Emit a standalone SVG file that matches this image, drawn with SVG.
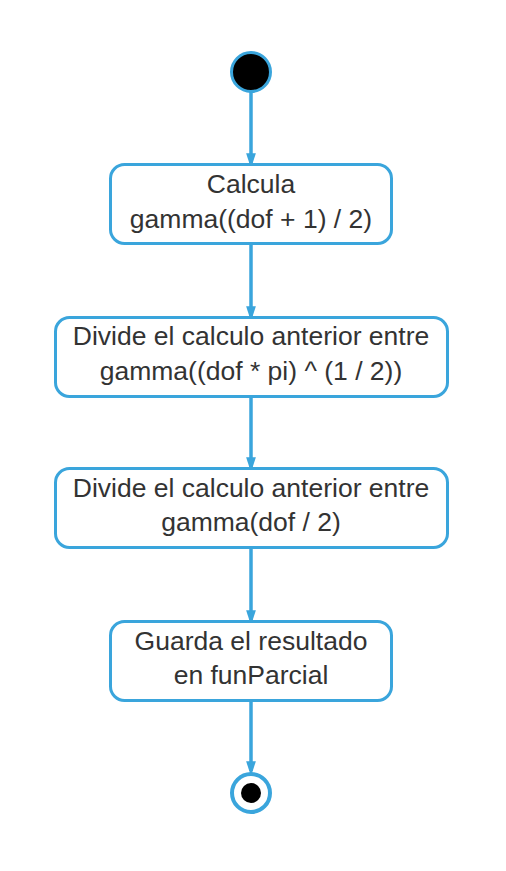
<svg xmlns="http://www.w3.org/2000/svg" width="506" height="871" viewBox="0 0 506 871">
<style>
.box{fill:#fff;stroke:#3aa5dc;stroke-width:3}
.t{font-family:"Liberation Sans",Arial,sans-serif;font-size:26.5px;fill:#333;text-anchor:middle}
.c{stroke:#3aa5dc;stroke-width:3.5;fill:none}
</style>
<defs>
<marker id="ah" markerWidth="15" markerHeight="23" refX="15" refY="7.5" orient="auto" markerUnits="userSpaceOnUse" viewBox="0 0 23 15">
<path d="M0,0 L23,7.5 L0,15 Z" fill="#3aa5dc"/>
</marker>
</defs>
<rect width="506" height="871" fill="#fff"/>
<g id="connectors">
<line class="c" x1="251" y1="92" x2="251" y2="163" marker-end="url(#ah)"/>
<line class="c" x1="251" y1="244" x2="251" y2="316" marker-end="url(#ah)"/>
<line class="c" x1="251" y1="397" x2="251" y2="467" marker-end="url(#ah)"/>
<line class="c" x1="251" y1="549" x2="251" y2="620" marker-end="url(#ah)"/>
<line class="c" x1="251" y1="701" x2="251" y2="771" marker-end="url(#ah)"/>
</g>
<g id="start"><circle cx="251" cy="72" r="19.5" fill="#000" stroke="#3aa5dc" stroke-width="3"/></g>
<g id="n1"><rect class="box" x="110.5" y="164.5" width="281" height="79" rx="14"/>
<text class="t" x="251" y="193">Calcula</text><text class="t" x="251" y="228">gamma((dof + 1) / 2)</text></g>
<g id="n2"><rect class="box" x="55.5" y="317.5" width="392" height="79" rx="14"/>
<text class="t" x="251" y="345">Divide el calculo anterior entre</text><text class="t" x="251" y="380">gamma((dof * pi) ^ (1 / 2))</text></g>
<g id="n3"><rect class="box" x="55.5" y="468.5" width="392" height="79" rx="14"/>
<text class="t" x="251" y="497">Divide el calculo anterior entre</text><text class="t" x="251" y="531">gamma(dof / 2)</text></g>
<g id="n4"><rect class="box" x="110.5" y="621.5" width="281" height="79" rx="14"/>
<text class="t" x="251" y="650">Guarda el resultado</text><text class="t" x="251" y="684">en funParcial</text></g>
<g id="end"><circle cx="251" cy="793" r="19" fill="#fff" stroke="#3aa5dc" stroke-width="4"/><circle cx="251" cy="793" r="10" fill="#000"/></g>
</svg>
